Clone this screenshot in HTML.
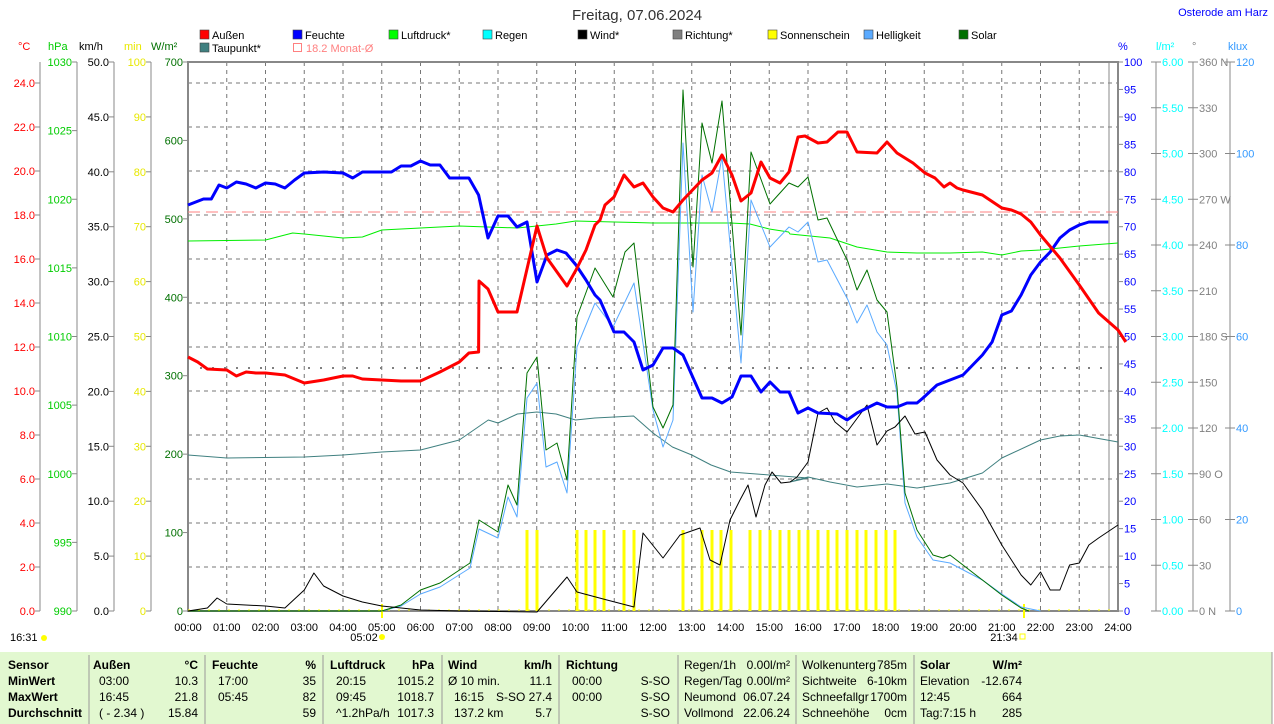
<!DOCTYPE html>
<html><head><meta charset="utf-8"><style>
html,body{margin:0;padding:0;background:#fff;width:1274px;height:724px;overflow:hidden}
svg{display:block}
text{font-family:"Liberation Sans",sans-serif;font-size:11px}
.tb text{font-size:12px}
</style></head><body>
<svg id="s" width="1274" height="724" xmlns="http://www.w3.org/2000/svg"></svg>
<script>
const S=document.getElementById('s');let h='';
const X=t=>t>30?t:188+t*38.75;
function T(x,y,s,c,a,extra){h+=`<text x="${x}" y="${y}" fill="${c||'#000'}" text-anchor="${a||'start'}" ${extra||''}>${s}</text>`;}
function L(x1,y1,x2,y2,c,w,d){h+=`<line x1="${x1}" y1="${y1}" x2="${x2}" y2="${y2}" stroke="${c}" stroke-width="${w||1}" ${d?`stroke-dasharray="${d}"`:''}/>`;}
function P(pts,c,w){h+=`<polyline fill="none" stroke="${c}" stroke-width="${w}" stroke-linejoin="round" points="${pts.map(p=>X(p[0]).toFixed(1)+','+p[1]).join(' ')}"/>`;}
T(637,20,'Freitag, 07.06.2024','#333','middle','style="font-size:15px"');
T(1268,16,'Osterode am Harz','#0000ff','end','style="font-size:11px"');
const lg=[[200,38,'#f00','Außen'],[293,38,'#00f','Feuchte'],[389,38,'#0f0','Luftdruck*'],[483,38,'#0ff','Regen'],[578,38,'#000','Wind*'],[673,38,'#808080','Richtung*'],[768,38,'#ff0','Sonnenschein'],[864,38,'#5aaaff','Helligkeit'],[959,38,'#007000','Solar'],[200,51,'#408080','Taupunkt*']];
lg.forEach(l=>{h+=`<rect x="${l[0]}" y="${l[1]-8}" width="9" height="9" fill="${l[2]}" stroke="#444" stroke-width="0.6"/>`;T(l[0]+12,l[1]+1,l[3]);});
h+=`<rect x="293.5" y="43.5" width="8" height="8" fill="none" stroke="#ff8080"/>`;T(306,52,'18.2 Monat-Ø','#ff8080');
for(let i=1;i<24;i++)L(X(i),62,X(i),611,'#777',1,'4,4');
for(let i=1;i<=12;i++)L(188,611-i*44,1118,611-i*44,'#777',1,'4,4');
L(188,62,1118,62,'#777',1,'4,4');
h+=`<rect x="188" y="62" width="930" height="549" fill="none" stroke="#888" stroke-width="2"/>`;
L(1109,62,1109,611,'#888',1);
const ax=(x)=>L(x,62,x,611,'#888',1);
ax(40);ax(77);ax(114);ax(151);
T(18,50,'°C','#f00');T(48,50,'hPa','#0c0');T(79,50,'km/h','#000');T(124,50,'min','#e8e800');T(151,50,'W/m²','#007000');
for(let i=0;i<=12;i++){let y=611-i*44;L(35,y,40,y,'#888');T(35,y+4,(i*2).toFixed(1),'#f00','end');}
for(let i=0;i<=8;i++){let y=611-i*68.625;L(72,y,77,y,'#888');T(72,y+4,990+i*5,'#0c0','end');}
for(let i=0;i<=10;i++){let y=611-i*54.9;L(109,y,114,y,'#888');T(109,y+4,(i*5).toFixed(1),'#000','end');L(146,y,151,y,'#888');T(146,y+4,i*10,'#e8e800','end');}
for(let i=0;i<=7;i++){let y=611-i*78.43;L(183,y,188,y,'#888');T(183,y+4,i*100,'#007000','end');}
T(1118,50,'%','#00f');T(1156,50,'l/m²','#0ff');T(1192,50,'°','#808080');T(1228,50,'klux','#3399ff');
ax(1156);ax(1193);ax(1230);
for(let i=0;i<=20;i++){let y=611-i*27.45;L(1118,y,1123,y,'#888');T(1124,y+4,i*5,'#00f');}
const dl={0:'N',3:'O',6:'S',9:'W',12:'N'};
for(let i=0;i<=12;i++){let y=611-i*45.75;L(1151,y,1161,y,'#888');T(1162,y+4,(i*0.5).toFixed(2),'#0ff');L(1188,y,1198,y,'#888');T(1199,y+4,(i*30)+(dl[i]?' '+dl[i]:''),'#808080');}
for(let i=0;i<=6;i++){let y=611-i*91.5;L(1225,y,1235,y,'#888');T(1236,y+4,i*20,'#3399ff');}
for(let i=0;i<=24;i++)T(X(i),631,(i<10?'0':'')+i+':00','#000','middle');
T(364,641,'05:02','#000','middle');h+=`<circle cx="382" cy="637" r="3" fill="#ff0"/>`;L(382,604,382,618,'#ff0',2);
T(1004,641,'21:34','#000','middle');h+=`<rect x="1020" y="634" width="5" height="5" fill="none" stroke="#ff0"/>`;L(1024,604,1024,618,'#ff0',2);
T(10,641,'16:31');h+=`<circle cx="44" cy="638" r="3" fill="#ff0"/>`;
L(188,610,1118,610,'#ff0',1,'2,8');
L(188,212,1118,212,'#ff8080',1,'12,6');
L(200,368,1110,368,'#808080',2,'2,10');
[527,537,577,586,595,604,624,634,683,702,712,721,731,750,760,770,780,789,799,808,818,828,837,847,857,866,876,886,895].forEach(x=>L(x,530,x,611,'#ff0',3));
// dewpoint
P([[0,455],[1,458],[3,457],[4,455],[5,452],[6,450],[7,440],[7.75,420],[8,423],[8.5,414],[9,412],[9.5,414],[10,420],[10.5,418],[11,417],[11.5,416],[12,433],[12.5,447],[13,455],[13.5,465],[14,472],[15,475],[16,478],[790,482],[808,477],[830,482],[857,487],[887,484],[917,488],[950,483],[20.5,473],[21,458],[22,440],[22.5,436],[23,435],[24,442]],'#408080',1);
// pressure
P([[0,241],[2,240],[2.7,233],[3,234],[4,238],[4.5,237],[5,230],[6,228],[7,226],[8.5,228],[9.5,224],[10,221],[11,222],[12,223],[14,223],[14.5,224],[15,229],[15.5,232],[790,234],[830,238],[857,247],[887,252],[917,253],[950,253],[20.5,252],[21,255],[21.5,251],[22,250],[23,246],[24,243]],'#0e0',1);
// helligkeit
P([[0,611],[5,611],[5.5,606],[6,594],[440,587],[470,568],[479,529],[498,538],[508,497],[517,517],[527,398],[537,383],[546,467],[557,462],[567,493],[577,347],[595,303],[613,327],[634,283],[653,410],[663,447],[673,420],[683,143],[693,312],[702,175],[712,212],[722,157],[741,363],[751,200],[770,247],[789,227],[798,232],[808,222],[818,262],[827,260],[848,300],[857,323],[867,305],[877,332],[887,345],[897,393],[905,503],[917,537],[933,560],[950,563],[20.5,580],[21,594],[21.5,607],[22,611]],'#5aaaff',1);
// solar
P([[0,611],[5,611],[5.5,605],[6,590],[440,583],[470,563],[479,520],[498,532],[508,485],[517,505],[527,373],[537,357],[546,450],[557,443],[567,480],[577,317],[595,268],[613,297],[625,252],[634,243],[653,407],[663,428],[673,405],[683,90],[693,267],[702,123],[712,163],[722,101],[741,335],[751,152],[770,204],[789,183],[798,187],[808,177],[818,220],[827,218],[848,262],[857,290],[867,270],[877,300],[887,312],[897,387],[905,493],[917,530],[933,555],[943,558],[950,555],[20.5,580],[21,595],[21.5,608],[21.7,611]],'#007000',1);
// wind
P([[0,611],[0.5,608],[0.75,598],[1,604],[2,606],[2.5,608],[3,590],[3.25,573],[3.5,586],[4,596],[4.5,602],[5,606],[6,610],[7,611],[537,612],[567,577],[577,592],[607,600],[634,607],[643,533],[663,558],[680,535],[700,528],[710,560],[720,565],[730,520],[740,500],[748,485],[756,517],[765,485],[772,472],[781,483],[790,482],[797,477],[808,462],[818,413],[827,408],[835,422],[847,432],[867,405],[877,445],[887,431],[895,427],[905,416],[915,434],[925,432],[937,460],[950,475],[963,483],[20.5,510],[21,545],[21.5,575],[21.75,585],[22,572],[22.25,590],[22.5,590],[22.75,565],[23,563],[23.25,545],[23.5,538],[24,525]],'#000',1);
// humidity
P([[0,205],[0.4,199],[0.6,199],[0.8,185],[1,188],[1.25,182],[1.5,184],[1.75,188],[2,183],[2.25,184],[2.5,188],[2.75,180],[3,173],[3.5,172],[4,173],[4.25,178],[4.5,172],[5,172],[5.25,172],[5.5,166],[5.75,166],[6,161],[6.25,165],[6.5,165],[6.75,178],[7,178],[7.25,178],[7.5,195],[488,238],[498,216],[508,216],[517,227],[527,222],[537,282],[547,255],[557,250],[566,253],[576,265],[586,280],[595,295],[600,300],[614,332],[624,332],[634,342],[643,370],[653,365],[663,348],[673,348],[683,355],[702,398],[712,398],[722,403],[732,397],[741,376],[751,376],[761,392],[770,382],[780,392],[789,392],[798,413],[808,408],[818,413],[837,414],[847,420],[857,413],[877,403],[887,407],[897,407],[907,403],[917,403],[923,398],[937,385],[950,380],[963,375],[20.5,355],[20.75,342],[21,315],[21.25,311],[21.5,295],[21.75,275],[22,262],[22.25,252],[22.5,238],[22.75,230],[23,225],[23.25,222],[23.75,222]],'#00f',3);
// temperature
P([[0,357],[0.25,362],[0.5,369],[1,370],[1.25,376],[1.5,372],[1.75,373],[2,373],[2.5,375],[3,383],[3.5,380],[4,376],[4.25,376],[4.5,379],[5,380],[5.5,381],[6,381],[6.5,372],[7,362],[7.25,353],[7.5,352],[479,281],[488,289],[498,312],[508,312],[517,312],[537,226],[547,258],[567,286],[576,270],[586,250],[595,225],[600,220],[605,205],[614,197],[624,175],[634,187],[643,183],[653,197],[663,208],[673,212],[683,200],[702,180],[712,173],[722,155],[732,175],[741,201],[751,193],[761,162],[770,178],[780,183],[789,172],[798,137],[805,136],[818,143],[827,142],[838,132],[847,132],[857,152],[877,153],[887,142],[897,153],[913,163],[925,173],[935,178],[944,187],[950,183],[957,188],[20,190],[20.5,195],[21,208],[21.25,210],[21.5,214],[21.75,222],[22,235],[22.5,258],[23,285],[23.5,313],[24,330],[24.2,342]],'#f00',3);
// table
h+=`<rect x="0" y="652" width="1272" height="72" fill="#e2f8d0"/>`;
[89,205,323,442,559,678,796,914].forEach(x=>L(x,655,x,724,'#999',1));
L(1272,652,1272,724,'#999',1);
h+='<g class="tb">';
const rows=[665,681,697,713];
const B='font-weight="bold"';
T(8,rows[0]+4,'Sensor','#000','start',B);T(8,rows[1]+4,'MinWert','#000','start',B);T(8,rows[2]+4,'MaxWert','#000','start',B);T(8,rows[3]+4,'Durchschnitt','#000','start',B);
const col=(x1,x2,hd,un,c1,c2)=>{T(x1,rows[0]+4,hd,'#000','start',B);T(x2,rows[0]+4,un,'#000','end',B);for(let i=0;i<3;i++){T(x1+6,rows[i+1]+4,c1[i]);T(x2,rows[i+1]+4,c2[i],'#000','end');}};
col(93,198,'Außen','°C',['03:00','16:45','( - 2.34 )'],['10.3','21.8','15.84']);
col(212,316,'Feuchte','%',['17:00','05:45',''],['35','82','59']);
col(330,434,'Luftdruck','hPa',['20:15','09:45','^1.2hPa/h'],['1015.2','1018.7','1017.3']);
col(448,552,'Wind','km/h',['','16:15','137.2 km'],['11.1','S-SO 27.4','5.7']);T(448,rows[1]+4,'Ø 10 min.');
T(566,rows[0]+4,'Richtung','#000','start',B);T(572,rows[1]+4,'00:00');T(572,rows[2]+4,'00:00');
['S-SO','S-SO','S-SO'].forEach((s,i)=>T(670,rows[i+1]+4,s,'#000','end'));
const sm=(x1,x2,a)=>a.forEach((r,i)=>{T(x1,rows[i]+4,r[0],'#000','start',r[2]?B:'');T(x2,rows[i]+4,r[1],'#000','end',r[2]?B:'');});
sm(684,790,[['Regen/1h','0.00l/m²'],['Regen/Tag','0.00l/m²'],['Neumond','06.07.24'],['Vollmond','22.06.24']]);
sm(802,907,[['Wolkenunterg','785m'],['Sichtweite','6-10km'],['Schneefallgr','1700m'],['Schneehöhe','0cm']]);
sm(920,1022,[['Solar','W/m²',1],['Elevation','-12.674'],['  12:45','664'],['Tag:7:15 h','285']]);
h+='</g>';
S.innerHTML=h;
</script>
</body></html>
